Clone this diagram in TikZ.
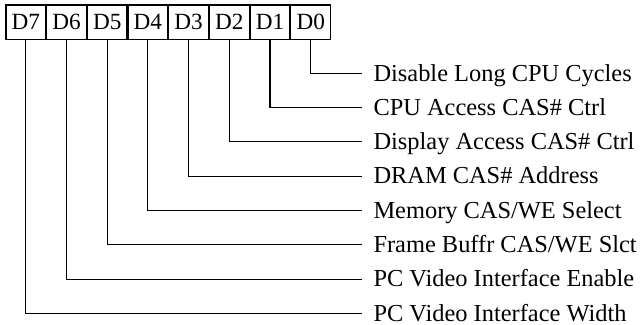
\documentclass[tikz,border=0pt]{standalone}
\usepackage{fontspec}
\setmainfont{Liberation Serif}
\usetikzlibrary{positioning}

\begin{document}
\begin{tikzpicture}[x=0.5pt,y=-0.5pt,line width=0.55pt,
  bitbox/.style={draw,inner sep=0pt,minimum width=19.8pt,minimum height=17.25pt,
    text height=7.7pt,text depth=0pt,font=\fontsize{11.6}{13}\selectfont},
  bitlabel/.style={anchor=west,inner xsep=5.5pt,inner ysep=0pt,
    text height=7.8pt,text depth=0pt,font=\fontsize{12.2}{14}\selectfont}]
\useasboundingbox (0,0) rectangle (642,325);
% register bits
\node[bitbox] (b7) at (25.8,22.25) {D7};
\node[bitbox,right=0pt of b7] (b6) {D6};
\node[bitbox,right=0pt of b6] (b5) {D5};
\node[bitbox,right=0pt of b5] (b4) {D4};
\node[bitbox,right=0pt of b4] (b3) {D3};
\node[bitbox,right=0pt of b3] (b2) {D2};
\node[bitbox,right=0pt of b2] (b1) {D1};
\node[bitbox,right=0pt of b1] (b0) {D0};
% bit meanings
\node[bitlabel] (l0) at (362,73.3) {Disable Long CPU Cycles};
\node[bitlabel] (l1) at (362,107.6) {CPU Access CAS\# Ctrl};
\node[bitlabel] (l2) at (362,141.9) {Display Access CAS\# Ctrl};
\node[bitlabel] (l3) at (362,176.2) {DRAM CAS\# Address};
\node[bitlabel] (l4) at (362,210.5) {Memory CAS/WE Select};
\node[bitlabel] (l5) at (362,244.8) {Frame Buffr CAS/WE Slct};
\node[bitlabel] (l6) at (362,279.1) {PC Video Interface Enable};
\node[bitlabel] (l7) at (362,313.4) {PC Video Interface Width};
% leader lines
\draw (b0.south) |- (l0.west);
\draw (b1.south) |- (l1.west);
\draw (b2.south) |- (l2.west);
\draw (b3.south) |- (l3.west);
\draw (b4.south) |- (l4.west);
\draw (b5.south) |- (l5.west);
\draw (b6.south) |- (l6.west);
\draw (b7.south) |- (l7.west);
\end{tikzpicture}
\end{document}
